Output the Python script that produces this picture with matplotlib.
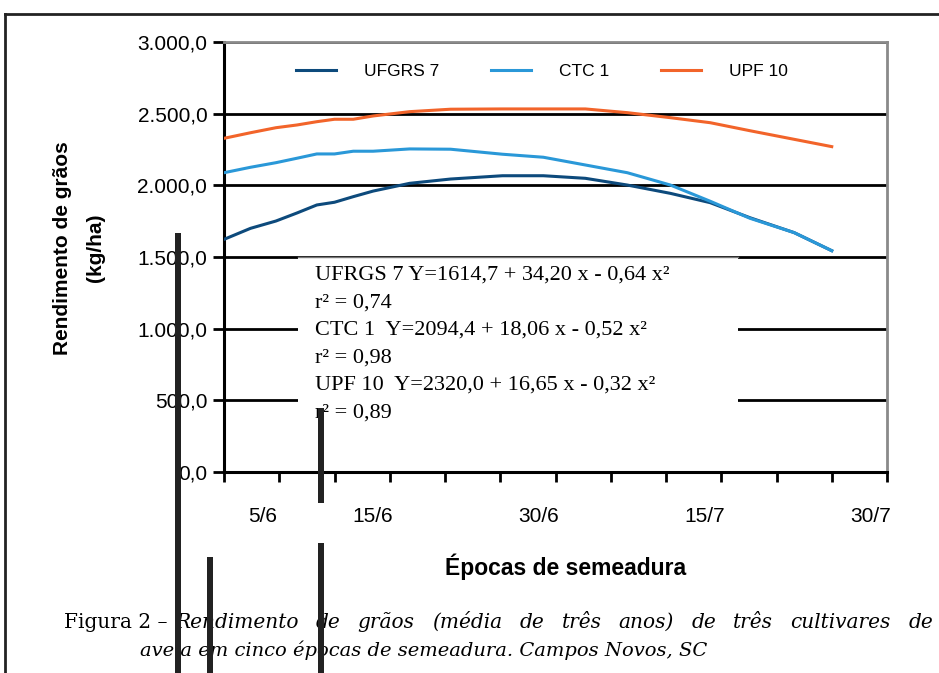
import matplotlib
matplotlib.use("Agg")
import matplotlib.pyplot as plt
from matplotlib.patches import Rectangle
from matplotlib.lines import Line2D

# dias após o início da semeadura (eixo x) e rendimento
dias = [0, 2.4, 4.7, 6.6, 8.4, 10.0, 11.7, 13.5, 16.8, 20.5, 25.2, 28.9,
        32.7, 36.5, 40.4, 44.0, 47.6, 51.6, 55.0]
ufrgs7 = [1623, 1700, 1751, 1807, 1863, 1882, 1921, 1960, 2014, 2044, 2067,
          2067, 2049, 2002, 1944, 1879, 1774, 1670, 1544]
ctc1 = [2088, 2126, 2158, 2189, 2219, 2219, 2238, 2238, 2254, 2252, 2217,
        2196, 2142, 2088, 2002, 1889, 1770, 1670, 1544]
upf10 = [2328, 2367, 2402, 2421, 2444, 2461, 2461, 2484, 2514, 2531, 2533,
         2533, 2533, 2507, 2472, 2437, 2381, 2321, 2270]

nomes = ["UFGRS 7", "CTC 1", "UPF 10"]
cores = ["#0d4a7c", "#2a98d8", "#f2642a"]

datas = ["5/6", "15/6", "30/6", "15/7", "30/7"]
dia_datas = [5, 15, 30, 45, 60]

y_ticks = [0, 500, 1000, 1500, 2000, 2500, 3000]
y_labels = ["0,0", "500,0", "1.000,0", "1.500,0", "2.000,0", "2.500,0", "3.000,0"]

equacoes = [
    "UFRGS 7 Y=1614,7 + 34,20 x - 0,64 x²",
    "r² = 0,74",
    "CTC 1  Y=2094,4 + 18,06 x - 0,52 x²",
    "r² = 0,98",
    "UPF 10  Y=2320,0 + 16,65 x - 0,32 x²",
    "r² = 0,89",
]

legenda_a = "Figura 2 –"
legenda_b = "Rendimento de grãos (média de três anos) de três cultivares de"
legenda_2 = "aveia em cinco épocas de semeadura. Campos Novos, SC"

W, H = 939, 673
fig = plt.figure(figsize=(W / 100, H / 100), dpi=100)
plt.rcParams['font.family'] = ['Liberation Sans', 'DejaVu Sans']


def fx(px):
    return px / W


def fy(py):
    return 1 - py / H


ax = fig.add_axes([fx(224), fy(472), fx(887) - fx(224), fy(42) - fy(472)])

for serie, nome, cor in zip([ufrgs7, ctc1, upf10], nomes, cores):
    ax.plot(dias, serie, color=cor, lw=2.2, label=nome, zorder=4)

ax.set_xlim(0, 60)
ax.set_ylim(0, 3000)

ax.set_yticks(y_ticks, labels=y_labels)
ax.yaxis.grid(True, color="black", lw=2)
ax.set_axisbelow(True)

ax.set_xticks(range(0, 61, 5), labels=[])
ax.set_xticks([d - 1.5 for d in dia_datas], labels=datas, minor=True)
ax.tick_params(axis="x", which="major", length=7, width=2, direction="out")
ax.tick_params(axis="x", which="minor", length=0, pad=25, labelsize=15)
ax.tick_params(axis="y", length=8, width=2, labelsize=15, pad=4)

for s in ["top", "right"]:
    ax.spines[s].set_color("#8a8a8a")
    ax.spines[s].set_linewidth(2)
for s in ["left", "bottom"]:
    ax.spines[s].set_color("black")
    ax.spines[s].set_linewidth(2.2)

# caixa branca das equações
ax.add_patch(Rectangle((0.112, 0.063), 0.663, 0.437, transform=ax.transAxes,
                       facecolor="white", edgecolor="none", zorder=2))
ax.add_line(Line2D([0.112, 0.775], [0.5, 0.5], transform=ax.transAxes,
                   color="#777777", lw=1, zorder=3))

ax.legend(loc="upper center", bbox_to_anchor=(0.48, 0.985), ncol=3,
          frameon=False, fontsize=12.5, handlelength=2.3,
          handletextpad=1.6, columnspacing=3.0)

for i, txt in enumerate(equacoes):
    fig.text(fx(315), fy(275 + i * 27.6), txt, fontsize=16,
             family="Liberation Serif", va="center", ha="left")

fig.text(fx(63), fy(248), "Rendimento de grãos", rotation=90, fontsize=15,
         fontweight="bold", ha="center", va="center")
fig.text(fx(96), fy(248), "(kg/ha)", rotation=90, fontsize=15,
         fontweight="bold", ha="center", va="center")
fig.text(fx(566), fy(567), "Épocas de semeadura", fontsize=16.5,
         fontweight="bold", ha="center", va="center")

# legenda da figura: parte em itálico justificada até x=933
rend = fig.canvas.get_renderer()
fig.text(fx(168), fy(622), legenda_a, fontsize=14.5, family="DejaVu Serif",
         ha="right", va="center")
tb = [fig.text(0, fy(622), p, fontsize=14.5, family="DejaVu Serif",
               style="italic", ha="left", va="center")
      for p in legenda_b.split()]
wb = [t.get_window_extent(rend).width for t in tb]
inicio_b, fim = 175, 933
espaco = (fim - inicio_b - sum(wb)) / (len(tb) - 1)
x = inicio_b
for t, w in zip(tb, wb):
    t.set_x(fx(x))
    x += w + espaco

fig.text(fx(140), fy(650), legenda_2, fontsize=14, family="DejaVu Serif",
         style="italic", ha="left", va="center")

# moldura da página
fig.add_artist(Line2D([fx(5), 1], [fy(14), fy(14)], color="#222222", lw=2))
fig.add_artist(Line2D([fx(5), fx(5)], [fy(14), 0], color="#222222", lw=2))

# marcas do scanner
for x0, y0, y1 in [(175, 233, 673), (318, 408, 503), (318, 543, 673),
                   (207, 557, 673)]:
    fig.add_artist(Rectangle((fx(x0), fy(y1)), fx(6), fy(y0) - fy(y1),
                             facecolor="#222222", edgecolor="none",
                             transform=fig.transFigure, zorder=10))

fig.savefig("out.png", dpi=100)
